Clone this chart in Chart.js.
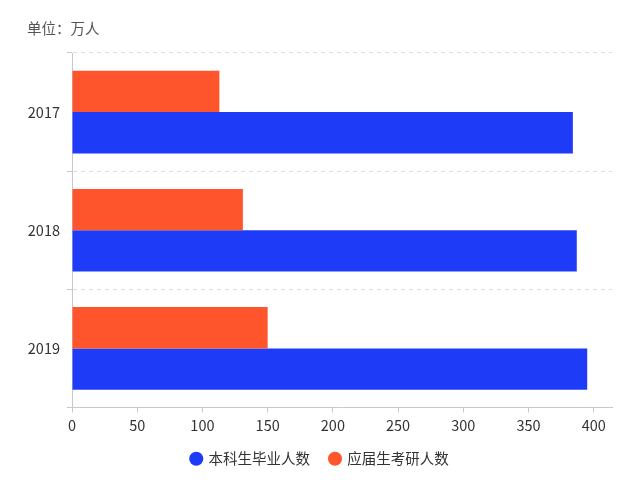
<!DOCTYPE html>
<html>
<head>
<meta charset="utf-8">
<script src="https://cdn.jsdelivr.net/npm/chart.js@4"></script>
<style>
  body { margin: 0; background: #fff; }
  #wrap { position: relative; width: 640px; height: 491px; }
  #unit { position: absolute; left: 27px; top: 17px; font: 14.5px "Noto Sans CJK SC", sans-serif; color: #555; }
</style>
</head>
<body>
<div id="wrap">
  <div id="unit">单位：万人</div>
  <canvas id="chart" width="640" height="491"></canvas>
</div>
<script>
// data
var years = ['2017', '2018', '2019'];
var graduates = [384, 387, 395];   // 本科生毕业人数
var examTakers = [113, 131, 150];  // 应届生考研人数
var xTicks = [0, 50, 100, 150, 200, 250, 300, 350, 400];

var font = '"Noto Sans CJK SC", sans-serif';

var ctx = document.getElementById('chart').getContext('2d');
var chart = new Chart(ctx, {
    type: 'bar',
    data: {
        labels: years,
        datasets: [{
            label: '应届生考研人数',
            data: examTakers,
            backgroundColor: '#ff552d',
            categoryPercentage: 0.7,
            barPercentage: 1.0
        }, {
            label: '本科生毕业人数',
            data: graduates,
            backgroundColor: '#1e3cf8',
            categoryPercentage: 0.7,
            barPercentage: 1.0
        }]
    },
    options: {
        indexAxis: 'y',
        responsive: false,
        animation: false,
        layout: {
            padding: { left: 0, top: 53, right: 0, bottom: 15 }
        },
        scales: {
            x: {
                min: 0,
                max: 414,
                afterBuildTicks: function (axis) {
                    axis.ticks = xTicks.map(v => ({ value: v }));
                },
                afterFit: function (scale) { scale.height = 24; },
                grid: { drawOnChartArea: false, tickLength: 5, tickColor: '#c8c8c8' },
                border: { color: '#c8c8c8' },
                ticks: { color: '#333', font: { family: font, size: 14.5 }, padding: 4 }
            },
            y: {
                afterFit: function (scale) { scale.width = 72; },
                grid: { offset: true, color: '#dedede', tickLength: 5, tickColor: '#c8c8c8', tickBorderDash: [] },
                border: { color: '#c8c8c8', dash: [4, 4] },
                ticks: { color: '#333', font: { family: font, size: 14.5 }, padding: 7 }
            },
            // empty right-hand axis, only to keep space on the right
            yRight: {
                type: 'category',
                position: 'right',
                afterFit: function (scale) { scale.width = 28; },
                grid: { display: false },
                border: { display: false },
                ticks: { display: false }
            }
        },
        plugins: {
            legend: {
                position: 'bottom',
                reverse: true,
                labels: {
                    usePointStyle: true,
                    pointStyle: 'circle',
                    boxWidth: 10,
                    boxHeight: 10,
                    padding: 20,
                    color: '#333',
                    font: { family: font, size: 14.5 }
                }
            },
            tooltip: { enabled: false }
        }
    }
});
</script>
</body>
</html>
